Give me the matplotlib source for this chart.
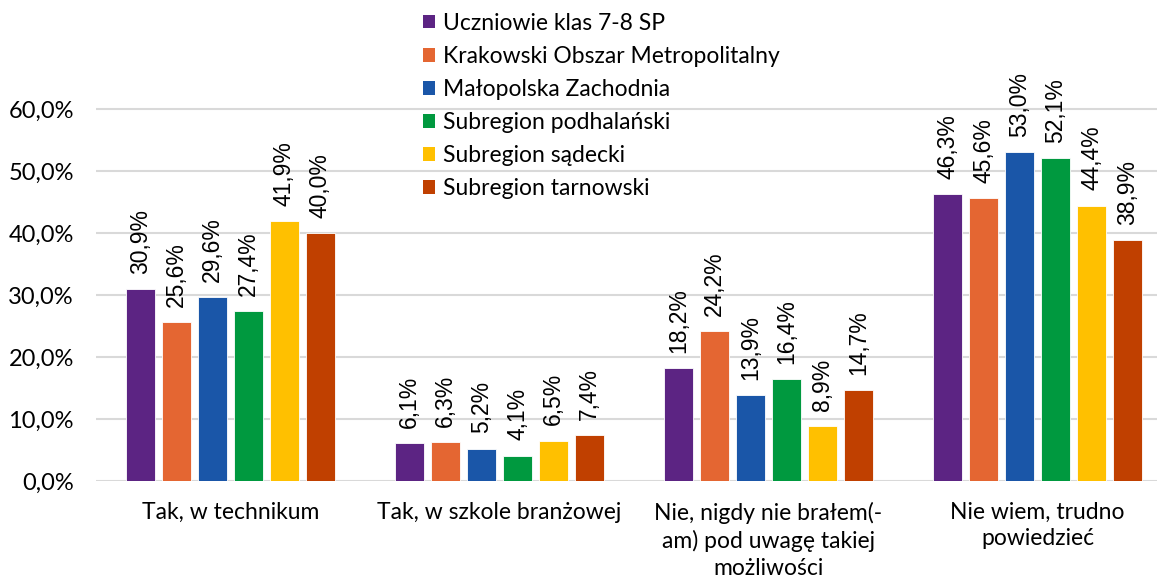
import matplotlib
matplotlib.use("Agg")
import matplotlib.pyplot as plt
from matplotlib.patches import Patch
import numpy as np

categories = ["Tak, w technikum", "Tak, w szkole branżowej",
              "Nie, nigdy nie brałem(-\nam) pod uwagę takiej\nmożliwości",
              "Nie wiem, trudno\npowiedzieć"]
series_names = ["Uczniowie klas 7-8 SP", "Krakowski Obszar Metropolitalny",
                "Małopolska Zachodnia", "Subregion podhalański",
                "Subregion sądecki", "Subregion tarnowski"]
values = [
    [30.9, 6.1, 18.2, 46.3],
    [25.6, 6.3, 24.2, 45.6],
    [29.6, 5.2, 13.9, 53.0],
    [27.4, 4.1, 16.4, 52.1],
    [41.9, 6.5, 8.9, 44.4],
    [40.0, 7.4, 14.7, 38.9],
]
colors = ["#5C2483", "#E46632", "#1A56A8", "#00993F", "#FFC000", "#C04000"]
yticks = [0, 10, 20, 30, 40, 50, 60]

W, H = 1157, 579
fig = plt.figure(figsize=(W / 100, H / 100), dpi=100)
left, right, bottom, top = 96, 1172, 481, 47
ax = fig.add_axes([left / W, 1 - bottom / H, (right - left) / W, (bottom - top) / H])

axis_font = "Lato"
label_font = "Liberation Sans"

x = np.arange(len(categories))
step = 36 / 269
width = 28.5 / 269
n = len(series_names)
for i, (name, vals, c) in enumerate(zip(series_names, values, colors)):
    pos = x + (i - (n - 1) / 2) * step
    bars = ax.bar(pos, vals, width=width, color=c, edgecolor="white", linewidth=0.6,
                  label=name, zorder=3)
    for b, v in zip(bars, vals):
        ax.annotate(f"{v:.1f}%".replace(".", ","),
                    (b.get_x() + b.get_width() / 2, v),
                    xytext=(0, 11), textcoords="offset points",
                    rotation=90, ha="center", va="bottom",
                    fontsize=16.5, family=label_font, color="#000000")

ax.set_xlim(-0.5, len(categories) - 0.5)
ax.set_ylim(0, 70)
ax.set_yticks(yticks)
ax.set_yticklabels([f"{t:.1f}%".replace(".", ",") for t in yticks],
                   fontsize=17, family=axis_font, color="#000000")
ax.set_xticks(x)
ax.set_xticklabels(categories, fontsize=16.5, family=axis_font, color="#000000",
                   linespacing=1.33, va="top")
ax.tick_params(axis="y", length=0, pad=16)
ax.tick_params(axis="x", length=0, pad=15)
ax.grid(axis="y", color="#D9D9D9", linewidth=1.5, zorder=0)
for s in ["top", "right", "left", "bottom"]:
    ax.spines[s].set_visible(False)
ax.set_axisbelow(True)

handles = [Patch(facecolor=c, edgecolor="none") for c in colors]
fig.legend(handles, series_names, loc="upper left",
           bbox_to_anchor=(418 / W, 1 - 8 / H),
           frameon=False, prop={"family": axis_font, "size": 16.5},
           handlelength=0.55, handleheight=0.55, handletextpad=0.35,
           labelspacing=0.53, borderaxespad=0, borderpad=0.2)

fig.savefig("out.png", dpi=100)
